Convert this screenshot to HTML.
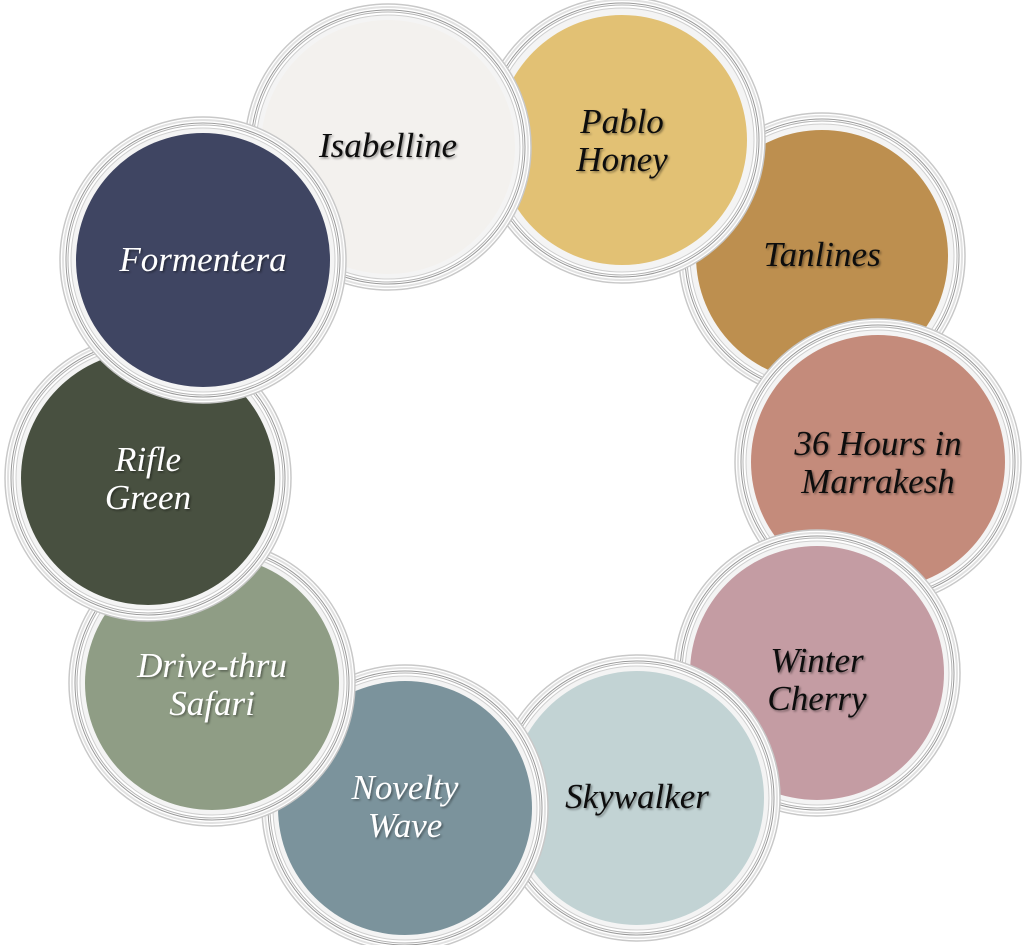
<!DOCTYPE html>
<html><head><meta charset="utf-8"><style>
html,body{margin:0;padding:0;background:#fff}
svg{display:block}
text{font-family:"Liberation Serif",serif;font-style:italic;font-size:35px;text-anchor:middle}
</style></head><body>
<svg width="1024" height="945" viewBox="0 0 1024 945" xmlns="http://www.w3.org/2000/svg">
<defs>
<filter id="sh" x="-20%" y="-20%" width="140%" height="140%"><feDropShadow dx="1.5" dy="1.5" stdDeviation="1" flood-color="#000" flood-opacity="0.4"/></filter>
<g id="rim">
<circle r="143" fill="#fff" stroke="#c8c8c8" stroke-width="1.5"/>
<circle r="140" fill="none" stroke="#e2e2e2" stroke-width="2"/>
<circle r="137" fill="none" stroke="#9a9a9a" stroke-width="1"/>
<circle r="135" fill="none" stroke="#b5b5b5" stroke-width="1"/>
<circle r="132" fill="#f4f4f4" stroke="#d0d0d0" stroke-width="1"/>
</g>
</defs>
<g transform="translate(822,256)"><use href="#rim"/><circle r="126" fill="#bd8f4f"/>
<text y="10" fill="#111" filter="url(#sh)">Tanlines</text></g>
<g transform="translate(622,140)"><use href="#rim"/><circle r="125" fill="#e2c174"/>
<text y="-7" fill="#111" filter="url(#sh)">Pablo</text><text y="31" fill="#111" filter="url(#sh)">Honey</text></g>
<g transform="translate(388,147)"><use href="#rim"/><circle r="127" fill="#f3f1ee"/>
<text y="10" fill="#111" filter="url(#sh)">Isabelline</text></g>
<g transform="translate(878,462)"><use href="#rim"/><circle r="127" fill="#c48b7b"/>
<text y="-7" fill="#111" filter="url(#sh)">36 Hours in</text><text y="31" fill="#111" filter="url(#sh)">Marrakesh</text></g>
<g transform="translate(817,673)"><use href="#rim"/><circle r="127" fill="#c49ca3"/>
<text y="-1" fill="#111" filter="url(#sh)">Winter</text><text y="37" fill="#111" filter="url(#sh)">Cherry</text></g>
<g transform="translate(637,798)"><use href="#rim"/><circle r="127" fill="#c2d3d4"/>
<text y="10" fill="#111" filter="url(#sh)">Skywalker</text></g>
<g transform="translate(405,808)"><use href="#rim"/><circle r="127" fill="#7b939c"/>
<text y="-9" fill="#fff" filter="url(#sh)">Novelty</text><text y="29" fill="#fff" filter="url(#sh)">Wave</text></g>
<g transform="translate(212,683)"><use href="#rim"/><circle r="127" fill="#8f9d85"/>
<text y="-6" fill="#fff" filter="url(#sh)">Drive-thru</text><text y="32" fill="#fff" filter="url(#sh)">Safari</text></g>
<g transform="translate(148,478)"><use href="#rim"/><circle r="127" fill="#485040"/>
<text y="-7" fill="#fff" filter="url(#sh)">Rifle</text><text y="31" fill="#fff" filter="url(#sh)">Green</text></g>
<g transform="translate(203,260)"><use href="#rim"/><circle r="127" fill="#3f4562"/>
<text y="11" fill="#fff" filter="url(#sh)">Formentera</text></g>
</svg>
</body></html>
